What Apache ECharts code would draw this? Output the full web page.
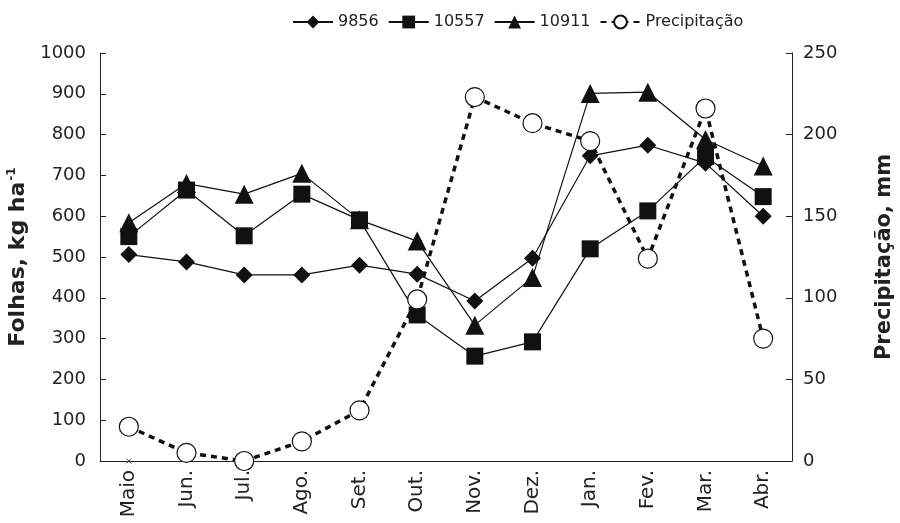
<!DOCTYPE html>
<html>
<head>
<meta charset="utf-8">
<script src="https://cdn.jsdelivr.net/npm/echarts@6/dist/echarts.min.js"></script>
<style>
  html, body { margin: 0; padding: 0; background: #fff; }
  #chart { width: 900px; height: 523px; }
</style>
</head>
<body>
<div id="chart"></div>
<script>
var months = ['Maio', 'Jun.', 'Jul.', 'Ago.', 'Set.', 'Out.', 'Nov.', 'Dez.', 'Jan.', 'Fev.', 'Mar.', 'Abr.']
var s9856 = [506, 488, 456, 456, 480, 458, 392, 497, 748, 774, 730, 600]
var s10557 = [550, 664, 552, 654, 591, 358, 257, 292, 520, 613, 746, 648]
var s10911 = [584, 680, 654, 705, 591, 539, 333, 450, 901, 904, 788, 723]
var precip = [21, 5, 0, 12, 31, 99, 223, 207, 196, 124, 216, 75]
var crossMark = [0, null, null, null, null, null, null, null, null, null, null, null]

var leftTicks = { min: 0, max: 1000, interval: 100 }
var rightTicks = { min: 0, max: 250, interval: 50 }

var font = 'DejaVu Sans'
var chart = echarts.init(document.getElementById('chart'))

function lineSeries (name, data, symbol, size) {
  return {
    name: name,
    type: 'line',
    data: data,
    symbol: symbol,
    symbolSize: size,
    lineStyle: { color: '#111', width: 1.2 },
    itemStyle: { color: '#111', borderColor: '#111', borderWidth: 0 },
    z: 3
  }
}

var option = {
  animation: false,
  backgroundColor: '#fff',
  textStyle: { fontFamily: font },
  legend: {
    top: 9,
    left: 287,
    itemWidth: 40,
    itemHeight: 16,
    itemGap: 9,
    data: ['9856', '10557', '10911', 'Precipitação'],
    textStyle: { color: '#222', fontFamily: font, fontSize: 16 }
  },
  grid: { left: 100, right: 108, top: 53, bottom: 62, outerBoundsMode: 'none', containLabel: false },
  xAxis: {
    type: 'category',
    data: months,
    boundaryGap: true,
    axisLine: { lineStyle: { color: '#222', width: 1 } },
    axisTick: { show: false },
    axisLabel: { rotate: 90, fontSize: 20, color: '#222', margin: 9, fontFamily: font }
  },
  yAxis: [{
    type: 'value',
    min: leftTicks.min,
    max: leftTicks.max,
    interval: leftTicks.interval,
    name: '{a|Folhas, kg ha}{b|-1}',
    nameLocation: 'middle',
    nameGap: 68,
    nameRotate: 90,
    nameTextStyle: {
      rich: {
        a: { fontSize: 22, fontWeight: 'bold', color: '#222', fontFamily: font },
        b: { fontSize: 12, fontWeight: 'bold', color: '#222', fontFamily: font, verticalAlign: 'top', padding: [0, 0, 12, 1] }
      }
    },
    splitLine: { show: false },
    axisLine: { show: true, lineStyle: { color: '#222', width: 1 } },
    axisTick: { show: true, inside: true, length: 6, lineStyle: { color: '#222' } },
    axisLabel: {
      fontSize: 18,
      color: '#222',
      margin: 14,
      fontFamily: font,
      formatter: function (v) { return String(v) }
    }
  }, {
    type: 'value',
    position: 'right',
    min: rightTicks.min,
    max: rightTicks.max,
    interval: rightTicks.interval,
    name: 'Precipitação, mm',
    nameLocation: 'middle',
    nameGap: 82,
    nameRotate: 90,
    nameTextStyle: { fontSize: 21, fontWeight: 'bold', color: '#222', fontFamily: font },
    splitLine: { show: false },
    axisLine: { show: true, lineStyle: { color: '#222', width: 1 } },
    axisTick: { show: true, inside: true, length: 6, lineStyle: { color: '#222' } },
    axisLabel: { fontSize: 18, color: '#222', margin: 11, fontFamily: font }
  }],
  series: [
    lineSeries('9856', s9856, 'diamond', 17),
    lineSeries('10557', s10557, 'rect', 17),
    lineSeries('10911', s10911, 'triangle', 19),
    {
      name: 'Precipitação',
      type: 'line',
      yAxisIndex: 1,
      data: precip,
      symbol: 'circle',
      symbolSize: 19,
      showAllSymbol: true,
      lineStyle: { color: '#111', width: 3.5, type: [6, 5] },
      itemStyle: { color: '#fff', borderColor: '#111', borderWidth: 1.2 },
      z: 4
    },
    {
      name: 'x',
      type: 'scatter',
      data: crossMark,
      symbol: 'path://M0,0L10,10M10,0L0,10',
      symbolSize: 5,
      itemStyle: { color: 'none', borderColor: '#222', borderWidth: 1 },
      z: 5
    }
  ]
}

chart.setOption(option)
</script>
</body>
</html>
